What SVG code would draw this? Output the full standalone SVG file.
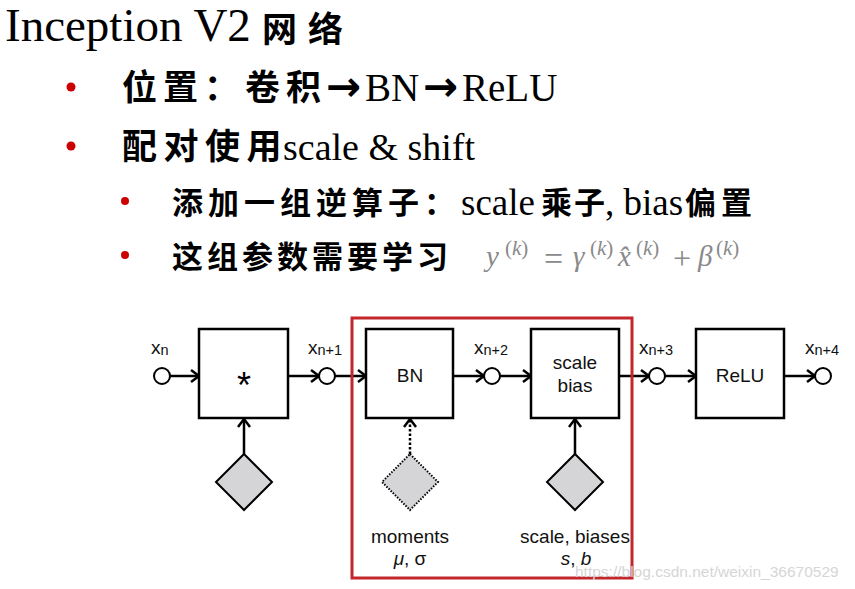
<svg xmlns="http://www.w3.org/2000/svg" width="855" height="589" viewBox="0 0 855 589">
<defs>
<style>
.lat{font-family:"Liberation Serif","Times New Roman",serif;fill:#000}
.cjk{font-family:"Noto Sans CJK SC",sans-serif;fill:#000;font-weight:bold}
.arw{font-family:"DejaVu Sans",sans-serif;font-weight:bold;fill:#000}
.bul{fill:#cc0000}
.math{font-family:"Liberation Serif","Times New Roman",serif;fill:#8a8a8a;font-style:italic}
.sup{font-size:21px}
.up{font-style:normal}
.dg{font-family:"Liberation Sans",Arial,sans-serif;fill:#111;font-size:19px}
.box{fill:#fff;stroke:#000;stroke-width:2.5}
.node{fill:#fff;stroke:#000;stroke-width:2}
.dia{fill:#d5d4d7;stroke:#000;stroke-width:2}
.edge{stroke:#000;stroke-width:2.5;fill:none}
</style>
<marker id="arr" markerUnits="userSpaceOnUse" markerWidth="14" markerHeight="16" refX="10" refY="7" orient="auto" viewBox="0 0 14 16">
<path d="M2,1 L10,7 L2,13" fill="none" stroke="#000" stroke-width="2.5"/>
</marker>
</defs>
<rect width="855" height="589" fill="#fff"/>

<g id="title">
<text class="lat" x="5" y="41" font-size="47">Inception V2</text>
<text class="cjk" x="262" y="42" font-size="35" letter-spacing="11">网络</text>
</g>

<g id="bullets">
<circle class="bul" cx="71" cy="87" r="4.5"/>
<text class="cjk" x="122" y="100" font-size="35" letter-spacing="6">位置：卷积</text>
<text class="arw" x="326" y="101" font-size="42">→</text>
<text class="lat" x="365" y="101" font-size="39">BN</text>
<text class="arw" x="423" y="101" font-size="42">→</text>
<text class="lat" x="462" y="101" font-size="39">ReLU</text>

<circle class="bul" cx="71" cy="146" r="4.5"/>
<text class="cjk" x="122" y="159" font-size="35" letter-spacing="6.5">配对使用</text>
<text class="lat" x="283" y="160" font-size="38">scale &amp; shift</text>

<circle class="bul" cx="125" cy="201" r="4"/>
<text class="cjk" x="172" y="214" font-size="31" letter-spacing="5">添加一组逆算子：</text>
<text class="lat" x="461" y="215" font-size="37">scale</text>
<text class="cjk" x="541" y="214" font-size="31" letter-spacing="2">乘子</text>
<text class="lat" x="605" y="215" font-size="37">, bias</text>
<text class="cjk" x="685" y="214" font-size="31" letter-spacing="5">偏置</text>

<circle class="bul" cx="125" cy="255" r="4"/>
<text class="cjk" x="172" y="268" font-size="31" letter-spacing="4">这组参数需要学习</text>

<text class="math" font-size="29"><tspan x="486" y="266">y</tspan><tspan x="505" y="255" class="sup up">(</tspan><tspan class="sup">k</tspan><tspan class="sup up">)</tspan><tspan x="544" y="270" class="up" font-size="34">=</tspan><tspan x="573" y="266">γ</tspan><tspan x="590" y="255" class="sup up">(</tspan><tspan class="sup">k</tspan><tspan class="sup up">)</tspan><tspan x="618" y="266">x̂</tspan><tspan x="636" y="255" class="sup up">(</tspan><tspan class="sup">k</tspan><tspan class="sup up">)</tspan><tspan x="673" y="269" class="up" font-size="32">+</tspan><tspan x="698" y="266">β</tspan><tspan x="716" y="255" class="sup up">(</tspan><tspan class="sup">k</tspan><tspan class="sup up">)</tspan></text>
</g>

<g id="connectors">
<line class="edge" x1="170" y1="376" x2="199" y2="376" marker-end="url(#arr)"/>
<line class="edge" x1="288" y1="376" x2="319" y2="376" marker-end="url(#arr)"/>
<line class="edge" x1="335" y1="376" x2="366" y2="376" marker-end="url(#arr)"/>
<line class="edge" x1="453" y1="376" x2="484" y2="376" marker-end="url(#arr)"/>
<line class="edge" x1="500" y1="376" x2="531" y2="376" marker-end="url(#arr)"/>
<line class="edge" x1="619" y1="376" x2="649" y2="376" marker-end="url(#arr)"/>
<line class="edge" x1="665" y1="376" x2="696" y2="376" marker-end="url(#arr)"/>
<line class="edge" x1="784" y1="376" x2="815" y2="376" marker-end="url(#arr)"/>
<line class="edge" x1="244" y1="454" x2="244" y2="419" marker-end="url(#arr)"/>
<line class="edge" x1="410" y1="454" x2="410" y2="419" stroke-dasharray="2.5,2" marker-end="url(#arr)"/>
<line class="edge" x1="575" y1="454" x2="575" y2="419" marker-end="url(#arr)"/>
</g>

<g id="x_n">
<circle class="node" cx="162" cy="376" r="8"/>
<text class="dg" x="151" y="354" font-size="22">x<tspan font-size="14.5" dy="1">n</tspan></text>
</g>
<g id="conv">
<rect class="box" x="199" y="329" width="89" height="89"/>
<text x="244" y="398" text-anchor="middle" font-family="Liberation Sans, Arial, sans-serif" font-size="36">*</text>
</g>
<g id="x_n1">
<circle class="node" cx="327" cy="376" r="8"/>
<text class="dg" x="308" y="354" font-size="22">x<tspan font-size="14.5" dy="1">n+1</tspan></text>
</g>
<g id="bn">
<rect class="box" x="366" y="329" width="87" height="89"/>
<text class="dg" x="410" y="382" text-anchor="middle">BN</text>
</g>
<g id="x_n2">
<circle class="node" cx="492" cy="376" r="8"/>
<text class="dg" x="474" y="354" font-size="22">x<tspan font-size="14.5" dy="1">n+2</tspan></text>
</g>
<g id="scalebias">
<rect class="box" x="531" y="329" width="88" height="89"/>
<text class="dg" x="575" y="369" text-anchor="middle">scale</text>
<text class="dg" x="575" y="392" text-anchor="middle">bias</text>
</g>
<g id="x_n3">
<circle class="node" cx="657" cy="376" r="8"/>
<text class="dg" x="639" y="354" font-size="22">x<tspan font-size="14.5" dy="1">n+3</tspan></text>
</g>
<g id="relu">
<rect class="box" x="696" y="329" width="88" height="89"/>
<text class="dg" x="740" y="382" text-anchor="middle">ReLU</text>
</g>
<g id="x_n4">
<circle class="node" cx="823" cy="376" r="8"/>
<text class="dg" x="805" y="354" font-size="22">x<tspan font-size="14.5" dy="1">n+4</tspan></text>
</g>

<g id="weights">
<polygon class="dia" points="244,454 272,482 244,510 216,482"/>
</g>
<g id="moments">
<polygon class="dia" points="410,454 438,482 410,510 382,482" stroke-width="1.5" stroke-dasharray="1.5,1.5"/>
<text class="dg" x="410" y="543" text-anchor="middle">moments</text>
<text class="dg" x="410" y="565" text-anchor="middle"><tspan font-style="italic">μ</tspan>, σ</text>
</g>
<g id="params">
<polygon class="dia" points="575,454 603,482 575,510 547,482"/>
<text class="dg" x="575" y="543" text-anchor="middle">scale, biases</text>
<text class="dg" x="576" y="565" text-anchor="middle"><tspan font-style="italic">s</tspan>, <tspan font-style="italic">b</tspan></text>
</g>

<g id="highlight">
<rect x="352" y="318" width="280" height="260" fill="none" stroke="#c4272b" stroke-width="3"/>
</g>

<text x="575" y="577" font-family="Liberation Sans, Arial, sans-serif" font-size="15.5" fill="#d6d6d6">https://blog.csdn.net/weixin_36670529</text>
</svg>
